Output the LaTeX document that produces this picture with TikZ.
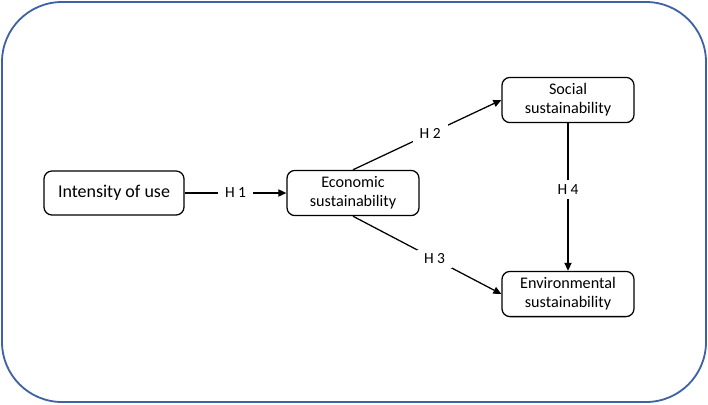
\documentclass[tikz,border=0pt]{standalone}
\usepackage{fontspec}
\setmainfont{Carlito}
\usetikzlibrary{arrows.meta,
                positioning}
\definecolor{frameblue}{RGB}{63,98,166}

\begin{document}
\begin{tikzpicture}[x=0.025cm, y=-0.025cm]
    \tikzset
    {
        base/.style = {draw,
                       line width = 0.9pt,
                       rounded corners = 2mm,
                       align = center,
                       inner sep = 0pt},
        construct/.style = {base,
                            minimum width = 33mm,
                            minimum height = 11.3mm,
                            font = \fontsize{11.5}{13.3}\selectfont},
        start/.style = {base,
                        minimum width = 35mm,
                        minimum height = 11mm,
                        font = \fontsize{12.8}{15}\selectfont},
        hyp/.style = {fill = white,
                      inner xsep = 5pt,
                      inner ysep = 3pt,
                      font = \fontsize{11}{13}\selectfont},
        arr/.style = {line width = 0.9pt,
                      -{Triangle[length=2mm, width=1.8mm]}}
    };

    % Frame
    \useasboundingbox (0,0) rectangle (708,404);
    \draw[frameblue, line width = 1.3pt, rounded corners = 1.5cm]
        (2,2) rectangle (706,402);

    % Nodes
    \node[start] (intensity) at (114,193) {Intensity of use};
    \node[construct] (economic) at (353,193) {Economic\\sustainability};
    \node[construct] (social) at (568,100) {Social\\sustainability};
    \node[construct] (environmental) at (568,294) {Environmental\\sustainability};

    % Arrows
    \draw[arr] (intensity) -- node[hyp] {H 1} (economic);
    \draw[arr] (economic.north) -- node[hyp, pos=0.52] {H 2} (social.west);
    \draw[arr] (economic.south) -- node[hyp, pos=0.55] {H 3} (environmental.west);
    \draw[arr] (social) -- node[hyp, pos=0.45] {H 4} (environmental);

\end{tikzpicture}
\end{document}
